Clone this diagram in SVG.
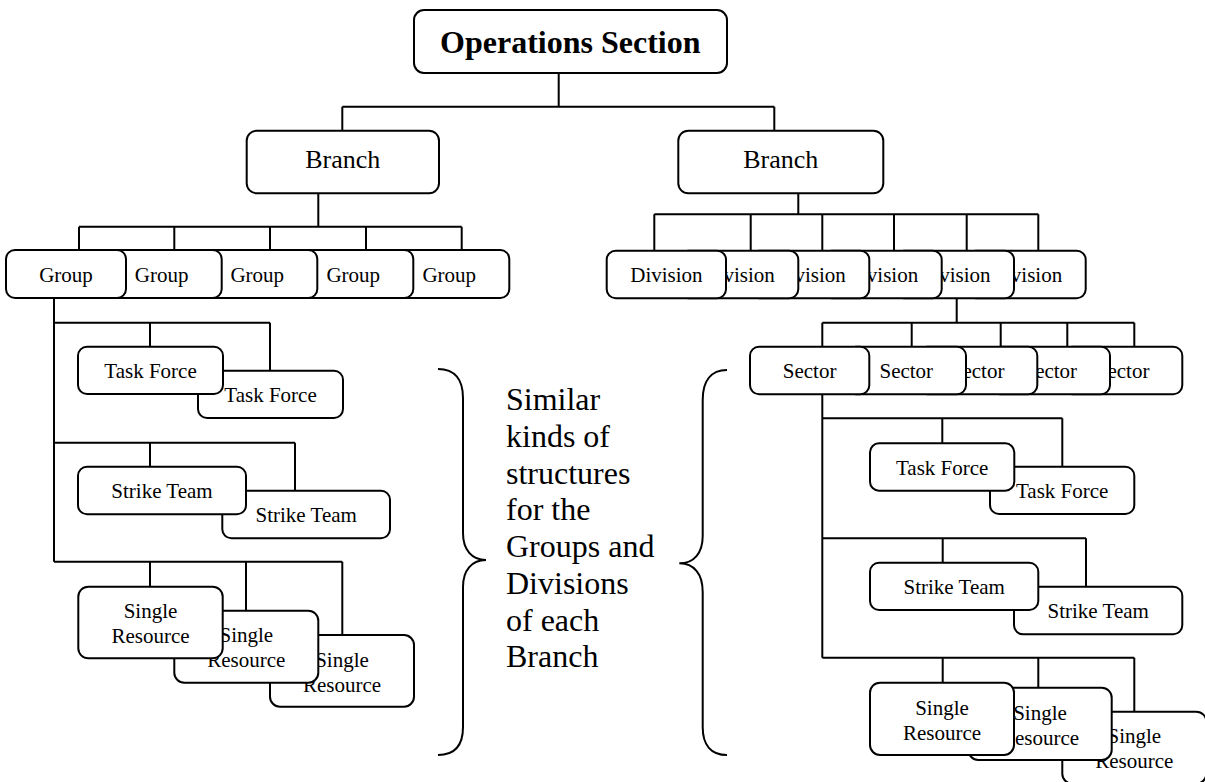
<svg xmlns="http://www.w3.org/2000/svg" width="1205" height="782" viewBox="0 0 1205 782">
  <style>
    .box { fill: #fff; stroke: #000; stroke-width: 2; }
    .t { font-family: "Liberation Serif", "Times New Roman", serif; font-size: 21px; text-anchor: middle; fill: #000; }
    .branch { font-size: 26px; }
    .title { font-size: 32px; font-weight: bold; }
    .note { font-family: "Liberation Serif", "Times New Roman", serif; font-size: 32px; fill: #000; }
    #connectors path { fill: none; stroke: #000; stroke-width: 2; }
    .brace { fill: none; stroke: #000; stroke-width: 2; }
  </style>
  <rect width="1205" height="782" fill="#fff"/>

  <!-- tree lines -->
  <g id="connectors">
    <!-- section to branches -->
    <path d="M558.7 73 V106.7 M342.3 106.7 H774.3 M342.3 106.7 V130.7 M774.3 106.7 V130.7"/>
    <!-- left branch to groups -->
    <path d="M318.3 193.3 V226.7 M79 226.7 H461.7 M79 226.7 V250 M174.3 226.7 V250 M270 226.7 V250 M366 226.7 V250 M461.7 226.7 V250"/>
    <!-- right branch to divisions -->
    <path d="M798.3 193.3 V214.3 M654.3 214.3 H1038.3 M654.3 214.3 V250.7 M750.7 214.3 V250.7 M822.3 214.3 V250.7 M894 214.3 V250.7 M966.7 214.3 V250.7 M1038.3 214.3 V250.7"/>
    <!-- group to task forces, strike teams, single resources -->
    <path d="M54 298 V561.7 M54 322.7 H270 M150 322.7 V346.7 M270 322.7 V370.7 M54 442.7 H295 M150 442.7 V466.7 M295 442.7 V490.7 M54 561.7 H342.3 M150 561.7 V586.7 M246 561.7 V610.7 M342.3 561.7 V635"/>
    <!-- division to sectors -->
    <path d="M956.7 298.3 V322.7 M822.3 322.7 H1134.3 M822.3 322.7 V346.7 M911.7 322.7 V346.7 M1000.7 322.7 V346.7 M1067.3 322.7 V346.7 M1134.3 322.7 V346.7"/>
    <!-- sector to task forces, strike teams, single resources -->
    <path d="M822.3 394.3 V657.7 M822.3 418.3 H1062.3 M942.3 418.3 V443.3 M1062.3 418.3 V466.7 M822.3 538.3 H1086 M942.7 538.3 V562.7 M1086 538.3 V586.7 M822.3 657.7 H1134.3 M942.7 657.7 V682.7 M1038.3 657.7 V687.7 M1134.3 657.7 V711.7"/>
  </g>

  <!-- top -->
  <g id="operations-section">
    <rect class="box" x="414" y="10" width="313" height="63" rx="10"/>
    <text class="t title" x="570.3" y="53">Operations Section</text>
  </g>
  <g id="branch-left">
    <rect class="box" x="246.7" y="130.7" width="192.3" height="62.6" rx="10"/>
    <text class="t branch" x="342.8" y="168">Branch</text>
  </g>
  <g id="branch-right">
    <rect class="box" x="678.3" y="130.7" width="205" height="62.6" rx="10"/>
    <text class="t branch" x="780.8" y="168">Branch</text>
  </g>

  <!-- groups (first one on top) -->
  <g id="group-5">
    <rect class="box" x="389.3" y="250" width="120" height="48" rx="9"/>
    <text class="t" x="449.3" y="282">Group</text>
  </g>
  <g id="group-4">
    <rect class="box" x="293.3" y="250" width="120" height="48" rx="9"/>
    <text class="t" x="353.3" y="282">Group</text>
  </g>
  <g id="group-3">
    <rect class="box" x="197.3" y="250" width="120" height="48" rx="9"/>
    <text class="t" x="257.3" y="282">Group</text>
  </g>
  <g id="group-2">
    <rect class="box" x="101.7" y="250" width="120" height="48" rx="9"/>
    <text class="t" x="161.7" y="282">Group</text>
  </g>
  <g id="group-1">
    <rect class="box" x="6" y="250" width="120" height="48" rx="9"/>
    <text class="t" x="66" y="282">Group</text>
  </g>

  <!-- divisions (first one on top) -->
  <g id="division-6">
    <rect class="box" x="966.4" y="250.7" width="119.3" height="47.6" rx="9"/>
    <text class="t" x="1026" y="282">Division</text>
  </g>
  <g id="division-5">
    <rect class="box" x="894.7" y="250.7" width="119.3" height="47.6" rx="9"/>
    <text class="t" x="954.4" y="282">Division</text>
  </g>
  <g id="division-4">
    <rect class="box" x="822.4" y="250.7" width="119.3" height="47.6" rx="9"/>
    <text class="t" x="882" y="282">Division</text>
  </g>
  <g id="division-3">
    <rect class="box" x="750" y="250.7" width="119.3" height="47.6" rx="9"/>
    <text class="t" x="809.7" y="282">Division</text>
  </g>
  <g id="division-2">
    <rect class="box" x="679" y="250.7" width="119.3" height="47.6" rx="9"/>
    <text class="t" x="738.7" y="282">Division</text>
  </g>
  <g id="division-1">
    <rect class="box" x="606.7" y="250.7" width="119.3" height="47.6" rx="9"/>
    <text class="t" x="666.4" y="282">Division</text>
  </g>

  <!-- group substructure -->
  <g id="group-task-force-2">
    <rect class="box" x="198" y="370.7" width="145" height="47.3" rx="9"/>
    <text class="t" x="270.5" y="401.8">Task Force</text>
  </g>
  <g id="group-task-force-1">
    <rect class="box" x="78" y="346.7" width="145" height="47.3" rx="9"/>
    <text class="t" x="150.5" y="378">Task Force</text>
  </g>
  <g id="group-strike-team-2">
    <rect class="box" x="222.3" y="490.7" width="167.7" height="47.6" rx="9"/>
    <text class="t" x="306.2" y="522">Strike Team</text>
  </g>
  <g id="group-strike-team-1">
    <rect class="box" x="78" y="466.7" width="168" height="47.6" rx="9"/>
    <text class="t" x="162" y="498">Strike Team</text>
  </g>
  <g id="group-single-resource-3">
    <rect class="box" x="270" y="635" width="144" height="71.7" rx="10"/>
    <text class="t" x="342" y="666.5"><tspan x="342">Single</tspan><tspan x="342" dy="25">Resource</tspan></text>
  </g>
  <g id="group-single-resource-2">
    <rect class="box" x="174.3" y="610.7" width="144" height="72" rx="10"/>
    <text class="t" x="246.3" y="642.3"><tspan x="246.3">Single</tspan><tspan x="246.3" dy="25">Resource</tspan></text>
  </g>
  <g id="group-single-resource-1">
    <rect class="box" x="78.3" y="586.7" width="144.4" height="71.6" rx="10"/>
    <text class="t" x="150.5" y="618.3"><tspan x="150.5">Single</tspan><tspan x="150.5" dy="25">Resource</tspan></text>
  </g>

  <!-- sectors (first one on top) -->
  <g id="sector-5">
    <rect class="box" x="1063" y="346.7" width="119.3" height="47.6" rx="9"/>
    <text class="t" x="1122.6" y="378">Sector</text>
  </g>
  <g id="sector-4">
    <rect class="box" x="990.7" y="346.7" width="119.3" height="47.6" rx="9"/>
    <text class="t" x="1050.3" y="378">Sector</text>
  </g>
  <g id="sector-3">
    <rect class="box" x="918" y="346.7" width="119.3" height="47.6" rx="9"/>
    <text class="t" x="977.6" y="378">Sector</text>
  </g>
  <g id="sector-2">
    <rect class="box" x="846.7" y="346.7" width="119.3" height="47.6" rx="9"/>
    <text class="t" x="906.3" y="378">Sector</text>
  </g>
  <g id="sector-1">
    <rect class="box" x="750" y="346.7" width="119.3" height="47.6" rx="9"/>
    <text class="t" x="809.6" y="378">Sector</text>
  </g>

  <!-- sector substructure -->
  <g id="sector-task-force-2">
    <rect class="box" x="990" y="466.7" width="144.3" height="47.3" rx="9"/>
    <text class="t" x="1062.2" y="497.8">Task Force</text>
  </g>
  <g id="sector-task-force-1">
    <rect class="box" x="870" y="443.3" width="144.3" height="47.4" rx="9"/>
    <text class="t" x="942.2" y="474.5">Task Force</text>
  </g>
  <g id="sector-strike-team-2">
    <rect class="box" x="1014" y="586.7" width="168.3" height="47.6" rx="9"/>
    <text class="t" x="1098.2" y="618">Strike Team</text>
  </g>
  <g id="sector-strike-team-1">
    <rect class="box" x="870" y="562.7" width="168.3" height="47.3" rx="9"/>
    <text class="t" x="954.2" y="594">Strike Team</text>
  </g>
  <g id="sector-single-resource-3">
    <rect class="box" x="1062.3" y="711.7" width="144" height="72" rx="10"/>
    <text class="t" x="1134.3" y="743.3"><tspan x="1134.3">Single</tspan><tspan x="1134.3" dy="25">Resource</tspan></text>
  </g>
  <g id="sector-single-resource-2">
    <rect class="box" x="968.3" y="687.7" width="143.4" height="72.3" rx="10"/>
    <text class="t" x="1040" y="719.7"><tspan x="1040">Single</tspan><tspan x="1040" dy="25">Resource</tspan></text>
  </g>
  <g id="sector-single-resource-1">
    <rect class="box" x="870" y="682.7" width="144" height="72.3" rx="10"/>
    <text class="t" x="942" y="715"><tspan x="942">Single</tspan><tspan x="942" dy="25">Resource</tspan></text>
  </g>

  <!-- braces and note between the two branches -->
  <path class="brace" d="M438 369 C455 369 463 380 463 398 L463 533 C463 550 472 560 486 560 C472 560 463 570 463 587 L463 727 C463 745 455 755 438 755"/>
  <path class="brace" d="M727 370 C711 370 702.7 381 702.7 400 L702.7 536 C702.7 553 694 563.3 679.3 563.3 C694 563.3 702.7 574 702.7 592 L702.7 727 C702.7 745 711 755 727 755"/>
  <text class="note">
    <tspan x="506" y="410">Similar</tspan>
    <tspan x="506" y="446.8">kinds of</tspan>
    <tspan x="506" y="483.5">structures</tspan>
    <tspan x="506" y="520.3">for the</tspan>
    <tspan x="506" y="557">Groups and</tspan>
    <tspan x="506" y="593.8">Divisions</tspan>
    <tspan x="506" y="630.5">of each</tspan>
    <tspan x="506" y="667.3">Branch</tspan>
  </text>
</svg>
